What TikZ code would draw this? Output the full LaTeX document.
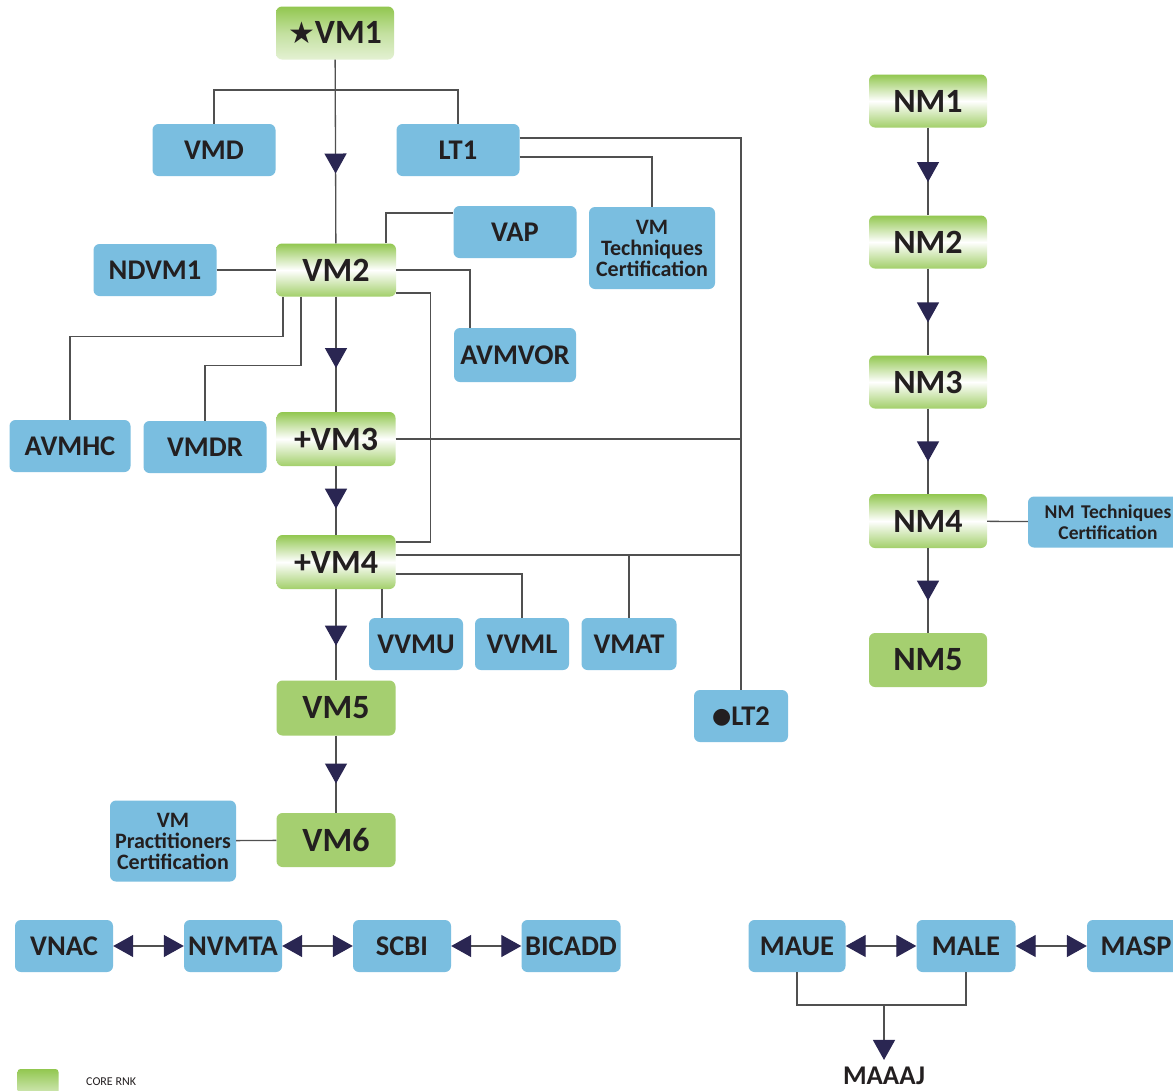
\documentclass[tikz,border=0pt]{standalone}
\usepackage{fontspec}
\setmainfont{Carlito}
\newfontfamily\symfont{DejaVu Sans}
\usetikzlibrary{arrows.meta,decorations.markings}

\definecolor{boxblue}{RGB}{122,190,224}
\definecolor{boxgreen}{RGB}{165,207,112}
\definecolor{shadegreen}{RGB}{146,199,80}
\definecolor{ink}{RGB}{35,31,32}
\definecolor{navy}{RGB}{42,38,82}
\definecolor{linegray}{RGB}{80,80,80}

\tikzset{
  box/.style={rounded corners=6pt,inner sep=0pt,text=ink,
    minimum width=123pt,minimum height=52pt,
    font=\bfseries\fontsize{28.5}{30}\selectfont},
  bluebox/.style={box,fill=boxblue},
  greenbox/.style={box,minimum width=120pt,minimum height=53pt,
    top color=shadegreen,bottom color=shadegreen!85,middle color=white,
    font=\bfseries\fontsize{34}{36}\selectfont},
  solidgreen/.style={box,minimum width=120pt,minimum height=53pt,fill=boxgreen,
    font=\bfseries\fontsize{34}{36}\selectfont},
  smalltext/.style={align=center,font=\bfseries\fontsize{22}{21}\selectfont},
  link/.style={draw=linegray,line width=1.3pt},
  midarrow/.style={postaction={decorate},decoration={markings,
    mark=at position 0.62 with {\arrow{Triangle[length=20pt,width=22pt,color=navy]}}}},
  tri/.tip={Triangle[length=20pt,width=22pt,color=navy]}
}

\begin{document}
\begin{tikzpicture}[x=1pt,y=-1pt]
  \useasboundingbox (0,0) rectangle (1173,1090);
  \clip (0,0) rectangle (1173,1090);
  \fill[white] (0,0) rectangle (1173,1090);

  % main column
  \node (VM1) [greenbox,minimum width=118pt,top color=shadegreen,bottom color=shadegreen!25,middle color=shadegreen!55] at (335,33)
    {{\symfont\fontsize{30}{30}\selectfont ★}VM1};
  \node (VMD)   [bluebox] at (214,150) {VMD};
  \node (LT1)   [bluebox] at (458,150) {LT1};
  \node (VAP)   [bluebox] at (515,232) {VAP};
  \node (VMTC)  [bluebox,smalltext,minimum width=126pt,minimum height=82pt] at (652,248)
    {VM\\Techniques\\Certification};
  \node (NDVM1) [bluebox] at (155,270) {NDVM1};
  \node (VM2)   [greenbox] at (336,270) {VM2};
  \node (AVMVOR)[bluebox,minimum width=122pt,minimum height=54pt] at (515,355) {AVMVOR};
  \node (AVMHC) [bluebox,minimum width=121pt] at (70,446) {AVMHC};
  \node (VMDR)  [bluebox] at (205,447) {VMDR};
  \node (VM3)   [greenbox,minimum width=119pt,minimum height=54pt] at (336,439) {+VM3};
  \node (VM4)   [greenbox,minimum width=119pt,minimum height=54pt] at (336,562) {+VM4};
  \node (VVMU)  [bluebox,minimum width=94pt] at (416,644) {VVMU};
  \node (VVML)  [bluebox,minimum width=94pt] at (522,644) {VVML};
  \node (VMAT)  [bluebox,minimum width=95pt] at (629,644) {VMAT};
  \node (VM5)   [solidgreen,minimum width=119pt,minimum height=55pt] at (336,708) {VM5};
  \node (LT2)   [bluebox,minimum width=94pt] at (741,716)
    {\raisebox{2pt}{\symfont\fontsize{22}{22}\selectfont ●}LT2};
  \node (VM6)   [solidgreen,minimum width=119pt,minimum height=54pt] at (336,840) {VM6};
  \node (VMPC)  [bluebox,smalltext,minimum width=126pt,minimum height=81pt] at (173,841)
    {VM\\Practitioners\\Certification};

  % NM column
  \node (NM1) [greenbox,minimum width=118pt] at (928,101) {NM1};
  \node (NM2) [greenbox,minimum width=118pt] at (928,242) {NM2};
  \node (NM3) [greenbox,minimum width=118pt] at (928,382) {NM3};
  \node (NM4) [greenbox,minimum width=118pt,minimum height=54pt] at (928,521) {NM4};
  \node (NM5) [solidgreen,minimum width=118pt,minimum height=54pt] at (928,660) {NM5};
  \node (NMTC)[bluebox,smalltext,font=\bfseries\fontsize{19.5}{21}\selectfont,
    minimum width=160pt,minimum height=51pt,text width=136pt] at (1108,522)
    {NM Techniques\\Certification};

  % bottom rows
  \node (VNAC)  [bluebox,minimum width=98pt] at (64,946)  {VNAC};
  \node (NVMTA) [bluebox,minimum width=98pt] at (233,946) {NVMTA};
  \node (SCBI)  [bluebox,minimum width=98pt] at (402,946) {SCBI};
  \node (BICADD)[bluebox,minimum width=99pt] at (571,946) {BICADD};
  \node (MAUE)  [bluebox,minimum width=97pt] at (797,946) {MAUE};
  \node (MALE)  [bluebox,minimum width=99pt] at (966,946) {MALE};
  \node (MASP)  [bluebox,minimum width=98pt] at (1136,946) {MASP};
  \node (MAAAJ) [text=ink,inner sep=0pt,font=\bfseries\fontsize{27}{28}\selectfont] at (884,1076) {MAAAJ};

  % legend
  \node (key) [rounded corners=3pt,minimum width=41pt,minimum height=34pt,inner sep=0pt,
    top color=shadegreen,bottom color=shadegreen!20] at (38,1086) {};
  \node (keytext) [anchor=west,text=ink,inner sep=0pt,font=\fontsize{12}{12}\selectfont] at (86,1082) {CORE RNK};

  % arrows down the columns
  \foreach \from/\to in {VM1/VM2,VM2/VM3,VM3/VM4,VM4/VM5,VM5/VM6,NM1/NM2,NM2/NM3,NM3/NM4,NM4/NM5}
    \draw[link,midarrow] (\from) -- (\to);

  % side links
  \coordinate (tee1) at (335,90);
  \draw[link] (VMD.north) |- (tee1) -| (LT1.north);
  \draw[link] ([yshift=12]LT1.east) -| (LT2.north);
  \draw[link] ([yshift=-7]LT1.east) -| (VMTC.north);
  \draw[link] ([xshift=50]VM2.north) |- ([yshift=19]VAP.west);
  \draw[link] (NDVM1) -- (VM2);
  \draw[link] (VM2.east) -| ([xshift=-45]AVMVOR.north);
  \draw[link] ([yshift=-23]VM2.east) -| ([xshift=35,yshift=20]VM4.east) -- ([yshift=20]VM4.east);
  \draw[link] ([xshift=-53]VM2.south) -- ++(0,40) -| (AVMHC.north);
  \draw[link] ([xshift=-35]VM2.south) -- ++(0,69) -| (VMDR.north);
  \draw[link] (VM3.east) -- (VM3.east -| LT2.north);
  \draw[link] ([yshift=7]VM4.east) -- ([yshift=7]VM4.east -| LT2.north);
  \draw[link] (VMAT.north) |- ([yshift=7]VM4.east);
  \draw[link] ([yshift=-12]VM4.east) -| (VVML.north);
  \draw[link] ([xshift=46]VM4.south) -- ([xshift=46]VM4.south |- VVMU.north);
  \draw[link] (VMPC) -- (VM6);
  \draw[link] (NM4) -- (NMTC);

  % two-way links
  \foreach \from/\to in {VNAC/NVMTA,NVMTA/SCBI,SCBI/BICADD,MAUE/MALE,MALE/MASP}
    \draw[link,tri-tri] (\from) -- (\to);

  \coordinate (tee2) at (884,1005);
  \draw[link] (MAUE.south) |- (tee2) -| (MALE.south);
  \draw[link,-tri] (tee2) -- ([yshift=7]MAAAJ.north);
\end{tikzpicture}
\end{document}
